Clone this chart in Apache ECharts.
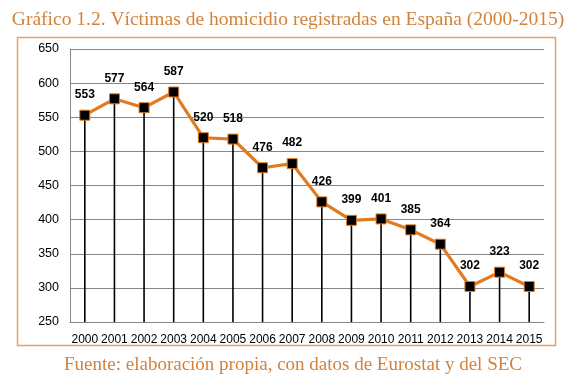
<!DOCTYPE html>
<html><head><meta charset="utf-8">
<script src="https://cdn.jsdelivr.net/npm/echarts@6/dist/echarts.min.js"></script>
<style>html,body{margin:0;padding:0;background:#fff}#c{width:582px;height:387px}</style>
</head><body><div id="c"></div>
<script>
const years = ['2000','2001','2002','2003','2004','2005','2006','2007','2008','2009','2010','2011','2012','2013','2014','2015'];
const victims = [553,577,564,587,520,518,476,482,426,399,401,385,364,302,323,302];
const yMin = 250, yMax = 650, yStep = 50;
const titleText = 'Gráfico 1.2. Víctimas de homicidio registradas en España (2000-2015)';
const sourceText = 'Fuente: elaboración propia, con datos de Eurostat y del SEC';

const chart = echarts.init(document.getElementById('c'), null, {renderer:'canvas'});
chart.setOption({
  animation:false,
  backgroundColor:'#fff',
  title:[
    {text:titleText,left:283,textAlign:'center',top:5,textStyle:{fontFamily:'Liberation Serif',fontSize:19.5,fontWeight:'normal',color:'#D2823A'}},
    {text:sourceText,left:288,textAlign:'center',top:351,textStyle:{fontFamily:'Liberation Serif',fontSize:19,fontWeight:'normal',color:'#D2823A'}}
  ],
  graphic:[{type:'rect',shape:{x:17.5,y:37.5,width:538,height:308},style:{fill:'none',stroke:'#DDA468',lineWidth:1.5},z:-1}],
  grid:{left:70,right:38,top:49,bottom:65},
  xAxis:{type:'category',data:years,boundaryGap:true,
    axisLine:{lineStyle:{color:'#868686',width:1}},axisTick:{show:false},
    axisLabel:{fontFamily:'Liberation Sans',fontSize:12,color:'#000',margin:12,interval:0},
    splitLine:{show:false}},
  yAxis:{type:'value',min:yMin,max:yMax,interval:yStep,
    axisLine:{show:true,lineStyle:{color:'#868686',width:1}},axisTick:{show:false},
    axisLabel:{fontFamily:'Liberation Sans',fontSize:12.5,color:'#000',margin:11},
    splitLine:{lineStyle:{color:'#868686',width:1}}},
  series:[
    {type:'bar',data:victims,barWidth:1.6,itemStyle:{color:'#000'},z:1,silent:true},
    {type:'line',data:victims,symbol:'rect',symbolSize:10,
     lineStyle:{color:'#E07B22',width:3.2},
     itemStyle:{color:'#000',borderColor:'#E07B22',borderWidth:1},
     label:{show:true,position:'top',distance:9,fontFamily:'Liberation Sans',fontSize:12,fontWeight:'bold',color:'#000'},
     z:3}
  ]
});
</script></body></html>
